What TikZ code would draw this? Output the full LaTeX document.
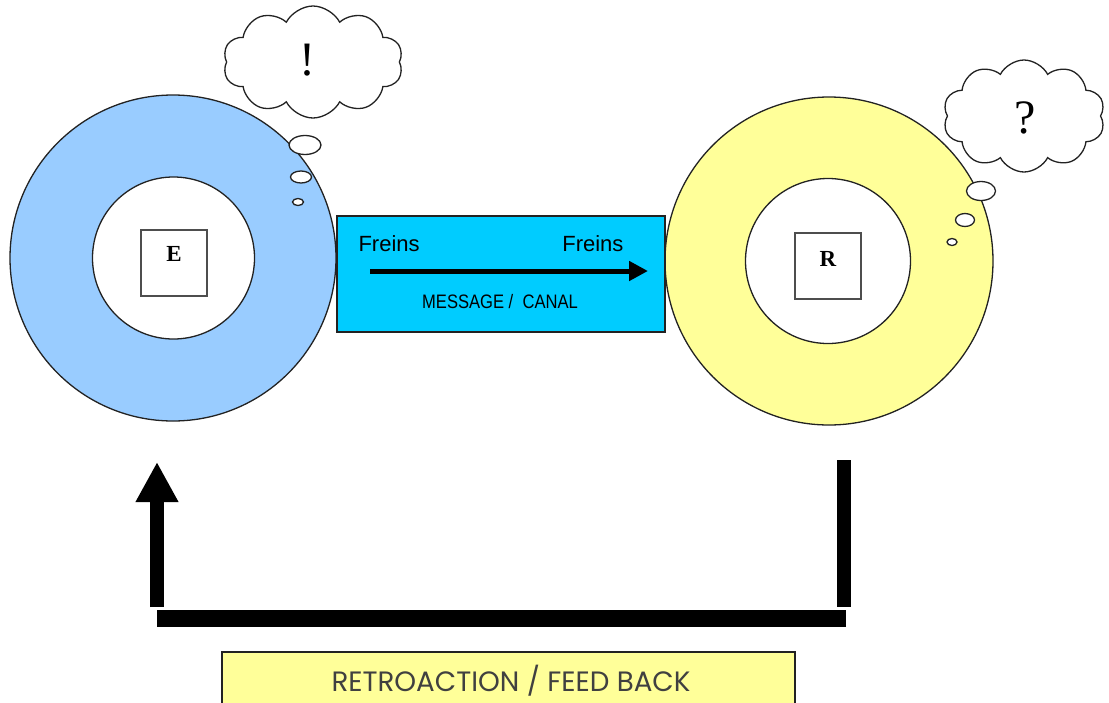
\documentclass[tikz,border=0pt]{standalone}
\usepackage{fontspec}
\setmainfont{Liberation Serif}
\newfontfamily\arialfont{Liberation Sans}
\newfontfamily\gothicfont{Poppins}
\usetikzlibrary{shapes.symbols,shapes.geometric,arrows.meta}

\definecolor{ringblue}{HTML}{99CCFF}
\definecolor{ringyellow}{HTML}{FFFF99}
\definecolor{canalcyan}{HTML}{00CCFF}
\definecolor{outline}{HTML}{222222}

\tikzset{
  ring/.style={circle, draw=outline, line width=1.3pt, inner sep=0pt, minimum size=#1},
  hole/.style={circle, draw=outline, fill=white, line width=1.3pt, inner sep=0pt, minimum size=#1},
  actorbox/.style={draw=outline!80, line width=1.3pt, fill=white, minimum size=66pt, inner sep=0pt},
  actorlabel/.style={font=\fontsize{23}{23}\selectfont\bfseries},
  thought/.style={cloud, draw=outline, fill=white, line width=1.3pt, cloud puffs=10,
    cloud puff arc=125, inner sep=0pt},
  bubble/.style={ellipse, draw=outline, fill=white, line width=1.3pt, inner sep=0pt},
  marktext/.style={font=\fontsize{48}{48}\selectfont},
  feed/.style={line width=14pt, line cap=butt},
}

\begin{document}
\begin{tikzpicture}[x=1pt,y=-1pt]
\useasboundingbox (0,0) rectangle (1109,702);

% sender and receiver rings
\node[ring=326pt, fill=ringblue] (ringE) at (173,258) {};
\node[hole=162pt] (holeE) at (173.5,258) {};
\node[ring=328pt, fill=ringyellow] (ringR) at (829,261) {};
\node[hole=165pt] (holeR) at (828,261) {};

\node[actorbox] (boxE) at (174,263) {};
\node[actorlabel] (labE) at (174,254) {E};
\node[actorbox] (boxR) at (828,266) {};
\node[actorlabel] (labR) at (828,259) {R};

% channel
\node[draw=outline, line width=1.3pt, fill=canalcyan, minimum width=328pt, minimum height=116pt,
      inner sep=0pt] (canal) at (501,274) {};
\node[font=\arialfont\fontsize{22}{22}\selectfont, anchor=base west] (freinsL) at (355,251) {Freins};
\node[font=\arialfont\fontsize{22}{22}\selectfont, anchor=base east] (freinsR) at (627,251) {Freins};
\coordinate (msgA) at (370,271);
\coordinate (msgB) at (648,271);
\draw[line width=5pt, -{Triangle[length=19pt,width=19pt]}] (msgA) -- (msgB);
\node[font=\arialfont\fontsize{19.5}{19.5}\selectfont] (msg) at (500,302)
  {\scalebox{0.85}[1]{MESSAGE /\ \ CANAL}};

% thoughts
\node[thought, minimum width=180pt, minimum height=112pt] (cloudE) at (313,62) {};
\node[marktext] (excl) at (307,60) {!};
\node[bubble, minimum width=32pt, minimum height=19pt] (bE1) at (305,145) {};
\node[bubble, minimum width=21pt, minimum height=12pt] (bE2) at (301,177) {};
\node[bubble, minimum width=11pt, minimum height=7pt] (bE3) at (298,202) {};

\node[thought, minimum width=162pt, minimum height=112pt] (cloudR) at (1024,116) {};
\node[marktext] (quest) at (1025,118) {?};
\node[bubble, minimum width=29pt, minimum height=19pt] (bR1) at (981,191) {};
\node[bubble, minimum width=19pt, minimum height=13pt] (bR2) at (965,220) {};
\node[bubble, minimum width=10pt, minimum height=7pt] (bR3) at (952,242) {};

% feedback loop from R back to E
\coordinate (fbTop) at (844,460);
\coordinate (fbRight) at (844,607);
\coordinate (barR) at (846,618.5);
\coordinate (barL) at (157,618.5);
\coordinate (fbLeft) at (157,607);
\coordinate (fbTip) at (157,462);
\draw[feed] (fbTop) -- (fbRight);
\draw[line width=17pt, line cap=butt] (barR) -- (barL);
\draw[feed, -{Triangle[length=40pt,width=40pt]}] (fbLeft) -- (fbTip);

\node[draw=outline, line width=1.3pt, fill=ringyellow, minimum width=573pt, minimum height=56pt,
      inner sep=0pt] (fbBox) at (508.5,680) {};
\node[font=\gothicfont\fontsize{28}{28}\selectfont, text=black!75] (fbText) at (511,681)
  {\scalebox{0.99}[1]{RETROACTION / FEED BACK}};
\end{tikzpicture}
\end{document}
